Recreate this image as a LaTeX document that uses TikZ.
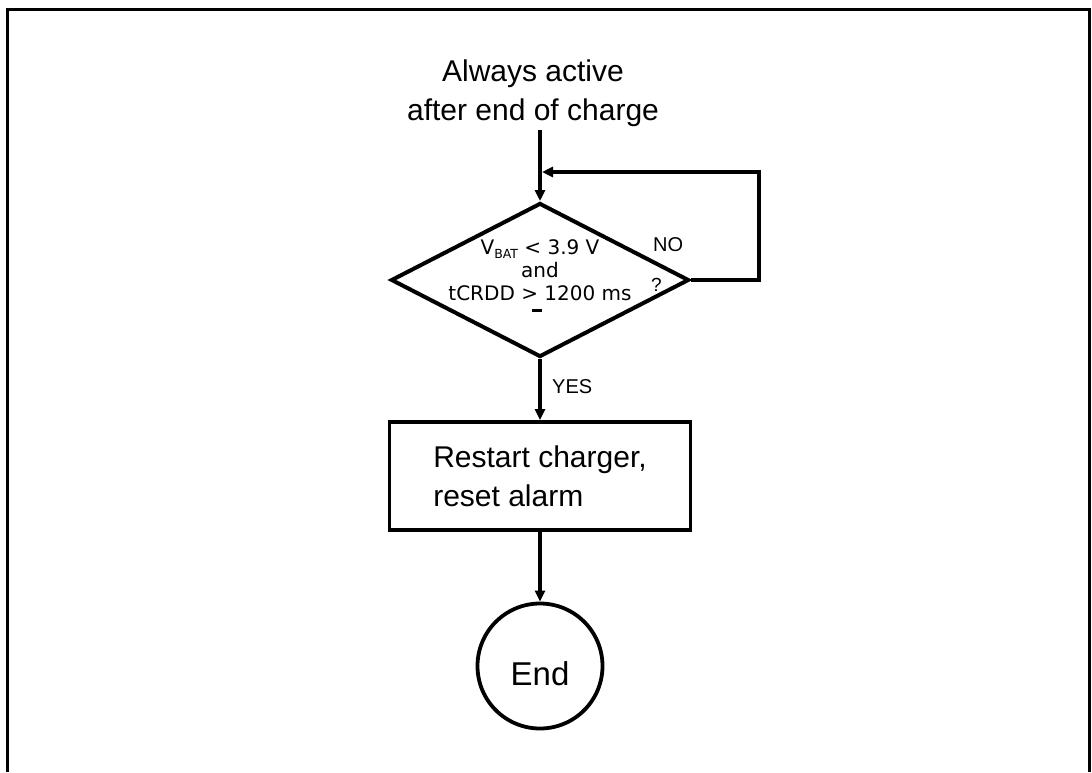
\documentclass[tikz,border=0pt]{standalone}
\usepackage{fontspec}
\setmainfont{Liberation Sans}
\newfontfamily\dejavu{DejaVu Sans}
\usetikzlibrary{shapes.geometric,arrows.meta}
\begin{document}
\begin{tikzpicture}[x=1pt,y=-1pt,
  conn/.style={line width=3.3pt,-{Triangle[length=11pt,width=10pt]}},
  decision/.style={diamond,draw,line width=4pt,inner sep=0pt,minimum width=298pt,minimum height=154pt},
  procbox/.style={rectangle,draw,line width=3.8pt,minimum width=301pt,minimum height=108pt,align=left,font=\fontsize{30}{39}\selectfont,inner sep=0pt},
  endcircle/.style={circle,draw,line width=3.8pt,minimum size=125pt,inner sep=0pt},
  lbl/.style={inner sep=0pt,font=\fontsize{20}{24}\selectfont}]
\useasboundingbox (0,0) rectangle (1092,772);
% frame
\draw[line width=3pt] (7,772) -- (7,9) -- (1089,9) -- (1089,772);
% nodes
\node[inner sep=0pt,align=center,font=\fontsize{30}{39}\selectfont] (title) at (533,93.6) {Always active\\after end of charge};
\node[decision] (dec) at (540,280) {};
\node[inner sep=0pt,align=center,font=\dejavu\fontsize{20}{23}\selectfont] (cond) at (540,270)
  {V\raisebox{-4pt}{\fontsize{12.5}{12.5}\selectfont BAT} < 3.9 V\\and\\tCRDD > 1200 ms};
\draw[line width=3pt] (532,310.5) -- (542,310.5);
\node[procbox] (act) at (540,476) {Restart charger,\\reset alarm};
\node[endcircle] (end) at (540,666) {};
\node[font=\fontsize{33}{40}\selectfont,inner sep=0pt] (endtxt) at (540,674) {End};
% labels
\node[lbl,anchor=base west] (no) at (653,251.5) {NO};
\node[lbl,anchor=base west] (yes) at (552,393) {YES};
\node[lbl,anchor=base west,font=\fontsize{19}{23}\selectfont] (q) at (651,291.5) {?};
% connectors
\coordinate (loopin) at (542,172);
\draw[conn,shorten <=3pt] (title.south -| dec.north) -- (dec.north);
\draw[conn] (dec.east) -- ++(68,0) |- (loopin);
\draw[conn] (dec.south) -- (act.north);
\draw[conn] (act.south) -- (end.north);
\end{tikzpicture}
\end{document}
